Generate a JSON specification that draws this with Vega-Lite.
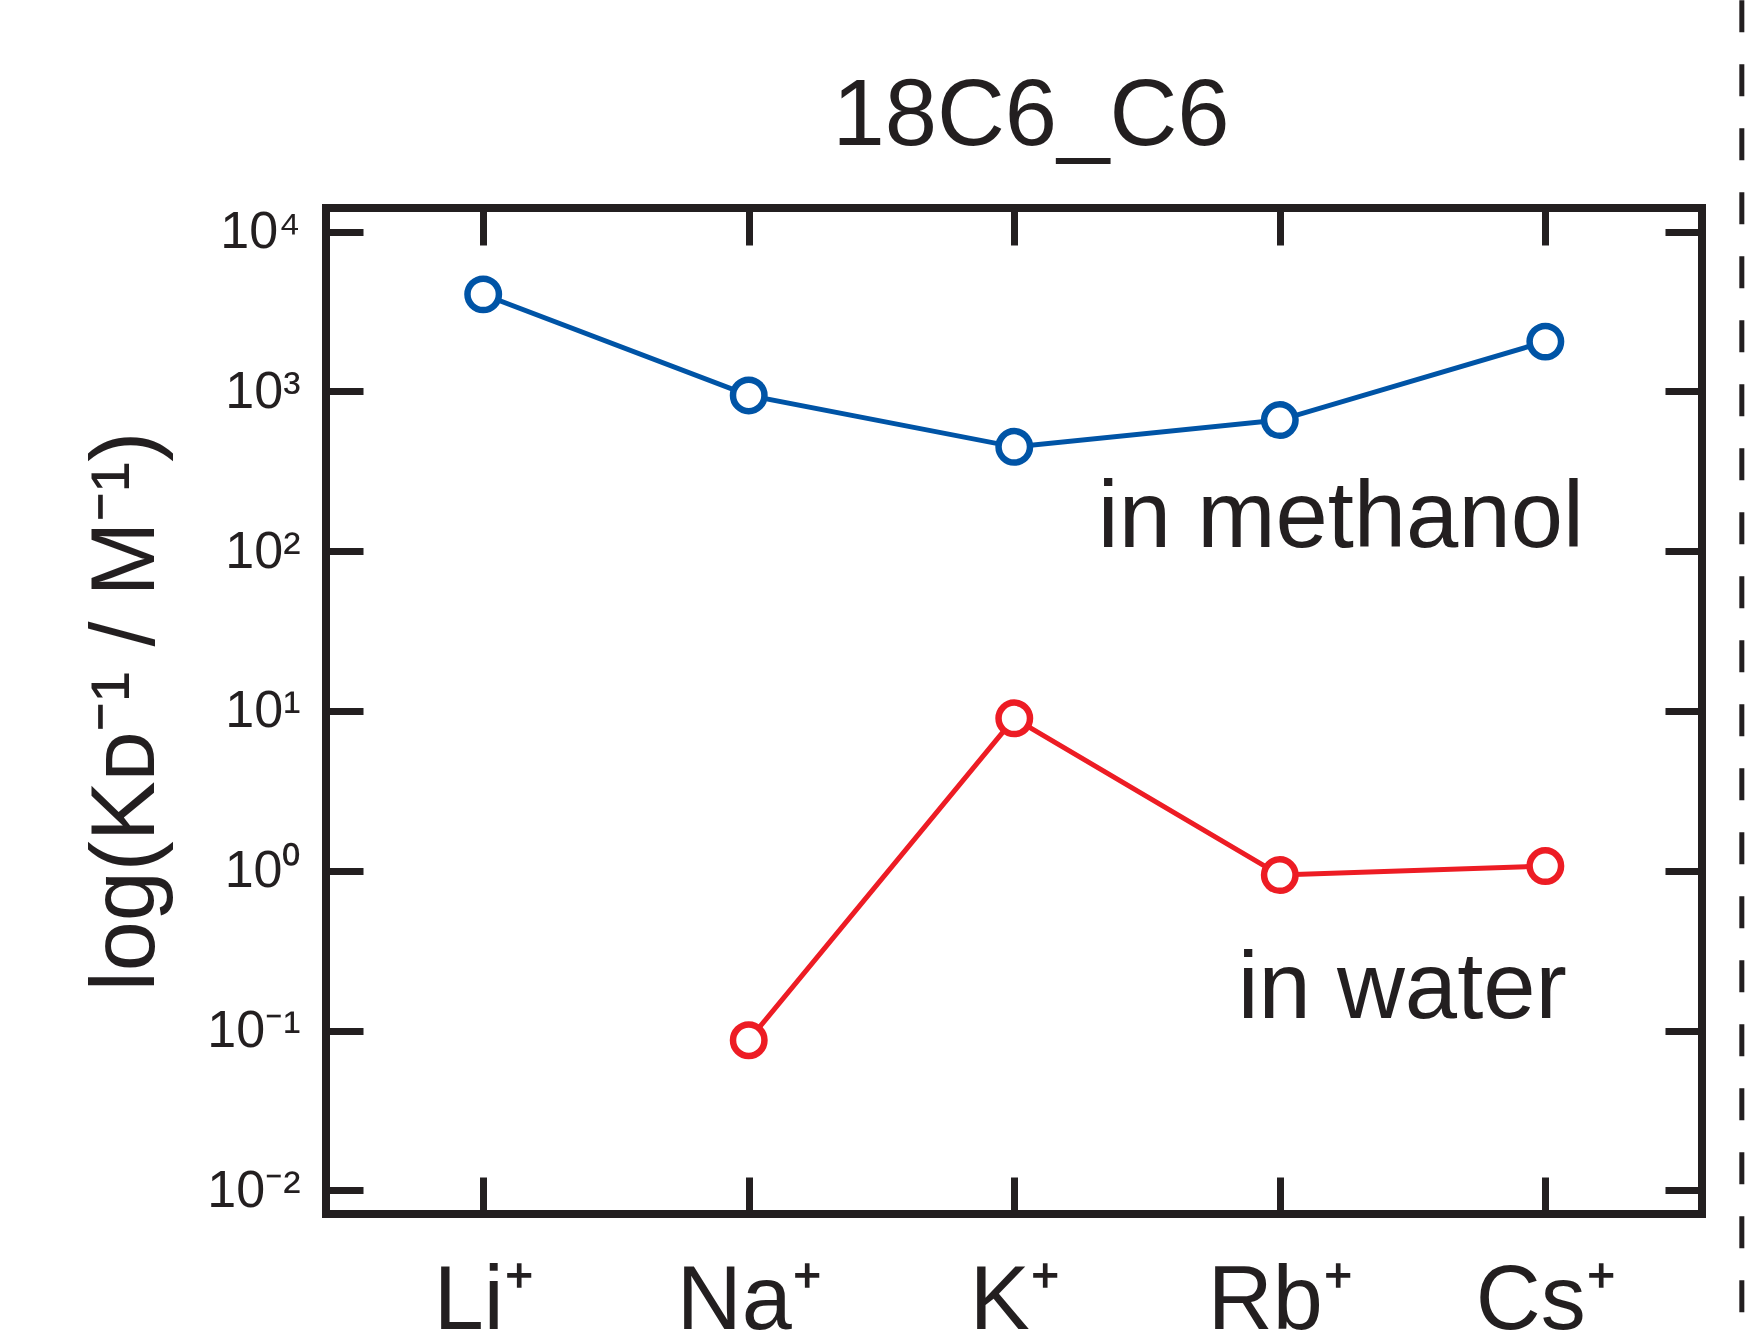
{
  "$schema": "https://vega.github.io/schema/vega-lite/v6.json",
  "width": 1376,
  "height": 1006,
  "autosize": {"type": "none"},
  "padding": {"left": 326, "top": 208, "right": 56, "bottom": 118},
  "background": "white",
  "config": {
    "font": "Liberation Sans",
    "view": {"stroke": "#231f20", "strokeWidth": 8},
    "axis": {
      "grid": false,
      "domain": false,
      "tickSize": -37,
      "tickWidth": 7,
      "tickColor": "#231f20",
      "labelColor": "#231f20",
      "titleColor": "#231f20",
      "labelFont": "Liberation Sans",
      "titleFont": "Liberation Sans",
      "titleFontWeight": "normal"
    }
  },
  "title": {
    "text": "18C6_C6",
    "fontSize": 94,
    "fontWeight": "normal",
    "font": "Liberation Sans",
    "color": "#231f20",
    "baseline": "alphabetic",
    "anchor": "middle",
    "frame": "group",
    "offset": 0,
    "dy": 241,
    "dx": 17
  },
  "datasets": {
    "kd": [
      {"ion": "Li⁺", "i": 0, "solvent": "methanol", "K": 4050},
      {"ion": "Na⁺", "i": 1, "solvent": "methanol", "K": 944},
      {"ion": "K⁺", "i": 2, "solvent": "methanol", "K": 450},
      {"ion": "Rb⁺", "i": 3, "solvent": "methanol", "K": 662},
      {"ion": "Cs⁺", "i": 4, "solvent": "methanol", "K": 2050},
      {"ion": "Na⁺", "i": 1, "solvent": "water", "K": 0.087},
      {"ion": "K⁺", "i": 2, "solvent": "water", "K": 9.0},
      {"ion": "Rb⁺", "i": 3, "solvent": "water", "K": 0.94},
      {"ion": "Cs⁺", "i": 4, "solvent": "water", "K": 1.07}
    ],
    "notes": [
      {"text": "in methanol", "i": 4.145, "K": 106},
      {"text": "in water", "i": 4.081, "K": 0.119}
    ],
    "separator": [
      {"i": 4.74, "top": 281000, "bottom": 0.0001}
    ]
  },
  "layer": [
    {
      "data": {"name": "kd"},
      "mark": {"type": "line", "strokeWidth": 5},
      "encoding": {
        "x": {
          "field": "i", "type": "quantitative",
          "scale": {"domain": [-0.592, 4.59], "nice": false, "zero": false},
          "axis": {
            "orient": "bottom",
            "values": [0, 1, 2, 3, 4],
            "labelExpr": "['Li⁺','Na⁺','K⁺','Rb⁺','Cs⁺'][datum.value]",
            "labelFontSize": 90,
            "labelPadding": 80,
            "labelBaseline": "top",
            "title": null
          }
        },
        "y": {
          "field": "K", "type": "quantitative",
          "scale": {"type": "log", "domain": [0.00711, 14060], "nice": false},
          "axis": {
            "orient": "left",
            "values": [0.01, 0.1, 1, 10, 100, 1000, 10000],
            "labelExpr": "datum.value >= 5000 ? '10⁴' : datum.value >= 500 ? '10³' : datum.value >= 50 ? '10²' : datum.value >= 5 ? '10¹' : datum.value >= 0.5 ? '10⁰' : datum.value >= 0.05 ? '10⁻¹' : '10⁻²'",
            "labelFontSize": 52,
            "labelPadding": 63,
            "title": "log(Kᴅ⁻¹ / M⁻¹)",
            "titleFontSize": 90,
            "titlePadding": 34
          }
        },
        "color": {
          "field": "solvent", "type": "nominal",
          "scale": {"domain": ["methanol", "water"], "range": ["#0054a6", "#ed1c24"]},
          "legend": null
        }
      }
    },
    {
      "data": {"name": "kd"},
      "mark": {"type": "point", "filled": true, "fill": "white", "size": 990, "strokeWidth": 6.5, "opacity": 1},
      "encoding": {
        "x": {"field": "i", "type": "quantitative", "scale": {"domain": [-0.592, 4.59], "nice": false, "zero": false}, "axis": null},
        "y": {"field": "K", "type": "quantitative", "scale": {"type": "log", "domain": [0.00711, 14060], "nice": false}, "axis": null},
        "stroke": {
          "field": "solvent", "type": "nominal",
          "scale": {"domain": ["methanol", "water"], "range": ["#0054a6", "#ed1c24"]},
          "legend": null
        }
      }
    },
    {
      "data": {"name": "notes"},
      "mark": {"type": "text", "align": "right", "baseline": "alphabetic", "fontSize": 94, "font": "Liberation Sans", "color": "#231f20"},
      "encoding": {
        "x": {"field": "i", "type": "quantitative", "scale": {"domain": [-0.592, 4.59], "nice": false, "zero": false}, "axis": null},
        "y": {"field": "K", "type": "quantitative", "scale": {"type": "log", "domain": [0.00711, 14060], "nice": false}, "axis": null},
        "text": {"field": "text"}
      }
    },
    {
      "data": {"name": "separator"},
      "mark": {"type": "rule", "clip": false, "strokeWidth": 5, "strokeDash": [32, 32], "color": "#231f20"},
      "encoding": {
        "x": {
          "field": "i", "type": "quantitative",
          "scale": {"domain": [-0.592, 4.59], "nice": false, "zero": false},
          "axis": {"orient": "top", "values": [0, 1, 2, 3, 4], "labels": false, "title": null}
        },
        "y": {
          "field": "top", "type": "quantitative",
          "scale": {"type": "log", "domain": [0.00711, 14060], "nice": false},
          "axis": {"orient": "right", "values": [0.01, 0.1, 1, 10, 100, 1000, 10000], "labels": false, "title": null}
        },
        "y2": {"field": "bottom"}
      }
    }
  ],
  "resolve": {"axis": {"x": "independent", "y": "independent"}}
}
